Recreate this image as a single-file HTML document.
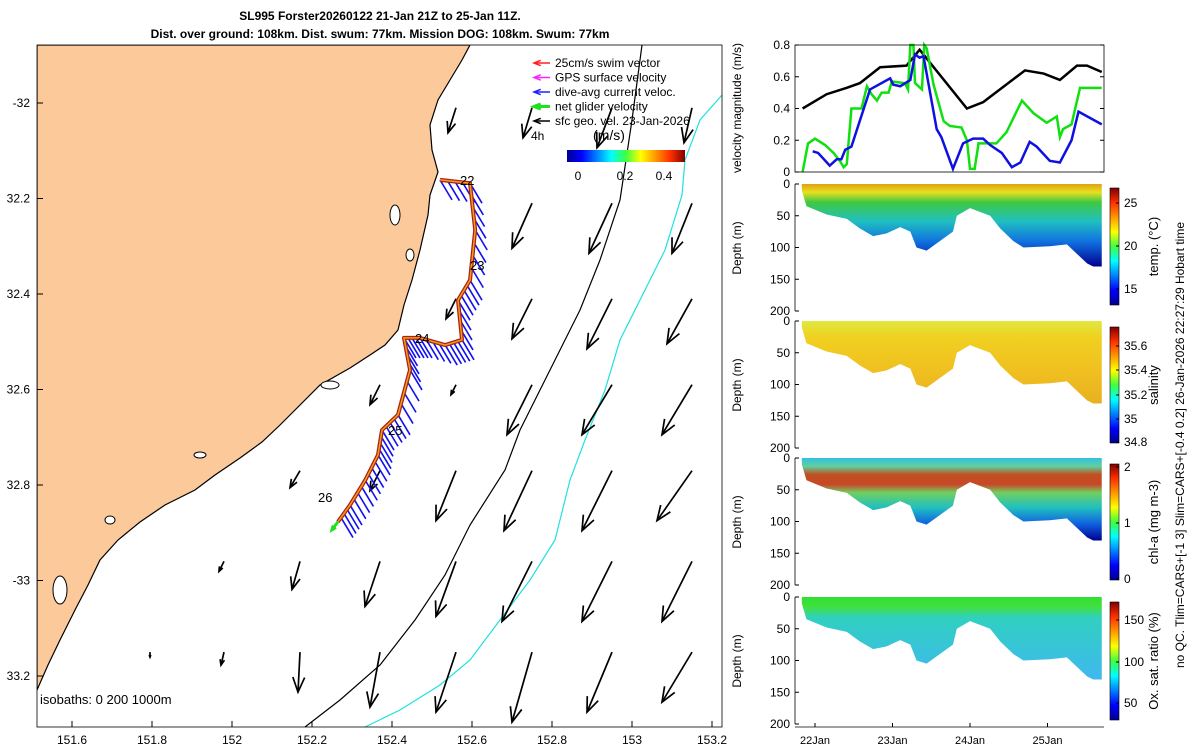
<!DOCTYPE html>
<html><head><meta charset="utf-8"><style>
body{margin:0;background:#fff;}
svg{display:block;font-family:"Liberation Sans","DejaVu Sans",sans-serif;}
</style></head><body>
<svg id="chart" width="1200" height="750" viewBox="0 0 1200 750">
<defs>
<linearGradient id="jet" x1="0" y1="1" x2="0" y2="0">
<stop offset="0" stop-color="#00008f"/><stop offset="0.125" stop-color="#0000ff"/><stop offset="0.375" stop-color="#00ffff"/><stop offset="0.5" stop-color="#40ff40"/><stop offset="0.625" stop-color="#ffff00"/><stop offset="0.875" stop-color="#ff3000"/><stop offset="1" stop-color="#800000"/></linearGradient>
<linearGradient id="jetH" x1="0" y1="0" x2="1" y2="0">
<stop offset="0" stop-color="#00008f"/><stop offset="0.125" stop-color="#0000ff"/><stop offset="0.375" stop-color="#00ffff"/><stop offset="0.5" stop-color="#40ff40"/><stop offset="0.625" stop-color="#ffff00"/><stop offset="0.875" stop-color="#ff3000"/><stop offset="1" stop-color="#800000"/></linearGradient>
<linearGradient id="gT" x1="0" y1="0" x2="0" y2="1"><stop offset="0" stop-color="#e0a010"/><stop offset="0.1" stop-color="#e8e020"/><stop offset="0.22" stop-color="#40c840"/><stop offset="0.45" stop-color="#20c0c0"/><stop offset="0.7" stop-color="#1070e0"/><stop offset="1" stop-color="#000090"/></linearGradient>
<linearGradient id="gS" x1="0" y1="0" x2="0" y2="1"><stop offset="0" stop-color="#e0e840"/><stop offset="0.2" stop-color="#f0d020"/><stop offset="0.6" stop-color="#f0c020"/><stop offset="1" stop-color="#e8b020"/></linearGradient>
<linearGradient id="gC" x1="0" y1="0" x2="0" y2="1"><stop offset="0" stop-color="#30c0e0"/><stop offset="0.1" stop-color="#60d0a0"/><stop offset="0.2" stop-color="#c05020"/><stop offset="0.32" stop-color="#c84828"/><stop offset="0.42" stop-color="#70d060"/><stop offset="0.6" stop-color="#20c0c0"/><stop offset="0.8" stop-color="#1060e0"/><stop offset="1" stop-color="#000090"/></linearGradient>
<linearGradient id="gO" x1="0" y1="0" x2="0" y2="1"><stop offset="0" stop-color="#30e030"/><stop offset="0.12" stop-color="#40e040"/><stop offset="0.25" stop-color="#30d0c0"/><stop offset="1" stop-color="#40b8f0"/></linearGradient>
<clipPath id="mapclip"><rect x="37" y="45" width="685" height="682"/></clipPath>
</defs>
<g id="map"></g>
<g id="right"></g>
</svg>
<script>
// ---------- data ----------
const gridLon=[151.795,151.98,152.17,152.37,152.56,152.75,152.95,153.15];
const gridLat=[-32.01,-32.21,-32.41,-32.59,-32.77,-32.96,-33.15];
const curU=[
[null,null,null,null,-0.08,-0.09,-0.15,-0.08],
[null,null,null,null,null,-0.20,-0.23,-0.20],
[null,null,null,null,-0.10,-0.20,-0.25,-0.25],
[null,null,null,-0.10,-0.05,-0.25,-0.30,-0.30],
[null,null,-0.10,-0.10,-0.20,-0.28,-0.30,-0.35],
[null,-0.05,-0.08,-0.15,-0.20,-0.30,-0.30,-0.30],
[0,-0.03,-0.02,-0.10,-0.20,-0.20,-0.25,-0.30]];
const curV=[
[null,null,null,null,-0.25,-0.30,-0.40,-0.35],
[null,null,null,null,null,-0.45,-0.50,-0.50],
[null,null,null,null,-0.20,-0.40,-0.50,-0.45],
[null,null,null,-0.20,-0.10,-0.50,-0.50,-0.50],
[null,null,-0.17,-0.20,-0.50,-0.60,-0.60,-0.50],
[null,-0.10,-0.28,-0.45,-0.55,-0.60,-0.60,-0.60],
[-0.05,-0.13,-0.40,-0.55,-0.60,-0.70,-0.60,-0.50]];
const trackLon=[152.52,152.595,152.608,152.595,152.565,152.575,152.533,152.47,152.43,152.445,152.415,152.375,152.365,152.333,152.295,152.265];
const trackLat=[-32.161,-32.168,-32.266,-32.371,-32.413,-32.496,-32.507,-32.492,-32.492,-32.559,-32.653,-32.685,-32.737,-32.790,-32.842,-32.877];
const lonTicks=[151.6,151.8,152,152.2,152.4,152.6,152.8,153,153.2];
const lonLabels=["151.6","151.8","152","152.2","152.4","152.6","152.8","153","153.2"];
const latTicks=[-32,-32.2,-32.4,-32.6,-32.8,-33,-33.2];
const latLabels=["-32","32.2","32.4","32.6","32.8","-33","33.2"];

const blkT=[21.84,22.15,22.41,22.58,22.84,23.18,23.35,23.96,24.17,24.71,24.95,25.16,25.38,25.51,25.70];
const blkV=[0.40,0.49,0.53,0.56,0.66,0.67,0.77,0.40,0.44,0.64,0.62,0.58,0.67,0.67,0.63];
const grnT=[21.84,21.91,22.00,22.13,22.24,22.32,22.37,22.41,22.47,22.60,22.67,22.73,22.80,22.86,22.95,22.99,23.16,23.20,23.23,23.27,23.29,23.38,23.41,23.44,23.53,23.66,23.74,23.89,23.96,24.00,24.06,24.11,24.22,24.34,24.47,24.67,24.82,24.99,25.12,25.16,25.20,25.31,25.42,25.70];
const grnV=[0,0.18,0.21,0.17,0.12,0.07,0.03,0.05,0.40,0.40,0.54,0.49,0.45,0.50,0.50,0.57,0.56,0.52,0.80,0.80,0.56,0.52,0.80,0.78,0.55,0.32,0.29,0.28,0.20,0.02,0.02,0.18,0.18,0.18,0.25,0.45,0.37,0.31,0.35,0.22,0.27,0.30,0.53,0.53];
const bluT=[21.97,22.04,22.19,22.28,22.34,22.39,22.47,22.71,22.97,23.01,23.10,23.23,23.29,23.35,23.40,23.57,23.63,23.78,23.91,24.04,24.17,24.26,24.41,24.54,24.65,24.77,24.86,25.03,25.16,25.31,25.40,25.70];
const bluV=[0.13,0.12,0.04,0.08,0.08,0.14,0.16,0.52,0.59,0.55,0.54,0.58,0.74,0.72,0.73,0.27,0.22,0.02,0.18,0.21,0.21,0.17,0.12,0.03,0.06,0.19,0.16,0.07,0.06,0.20,0.38,0.30];
const botT=[21.83,21.89,22.15,22.41,22.58,22.75,22.92,23.10,23.23,23.31,23.44,23.61,23.78,23.83,24.00,24.26,24.39,24.56,24.69,25.03,25.25,25.38,25.51,25.59,25.70];
const botD=[10,35,48,55,70,82,78,68,75,100,105,90,75,50,38,50,70,90,100,98,95,110,125,130,130];
const dayTicks=[22,23,24,25];
const dayLabels=["22Jan","23Jan","24Jan","25Jan"];
const velTicks=[0,0.2,0.4,0.6,0.8];
const depthTicks=[0,50,100,150,200];

// ---------- helpers ----------
const NS="http://www.w3.org/2000/svg";
function mk(tag,attrs,parent,txt){const e=document.createElementNS(NS,tag);for(const k in attrs)e.setAttribute(k,attrs[k]);if(txt!==undefined)e.textContent=txt;parent.appendChild(e);return e;}
const lonX=l=>72+(l-151.6)*400;
const latY=l=>103+(-32-l)*477.5;
const map=document.getElementById('map');
const right=document.getElementById('right');

// ---------- map ----------
const water=mk('rect',{x:37,y:45,width:685,height:682,fill:'#fff'},map);


const clip=mk('g',{'clip-path':'url(#mapclip)'},map);
const land=mk('path',{d:'M37,45 L470,45 L462,60 L450,80 L438,100 L430,125 L432,150 L438,172 L430,195 L428,215 L420,250 L412,280 L404,305 L398,330 L385,345 L370,355 L350,368 L320,385 L300,405 L280,425 L262,442 L240,458 L215,475 L195,490 L165,505 L140,522 L118,540 L100,560 L88,585 L75,610 L60,640 L48,665 L37,690 Z',fill:'#fcc99a',stroke:'#000','stroke-width':1.2},clip);


[[395,215,5,10],[410,255,4,6],[330,385,9,4],[200,455,6,3],[60,590,7,14],[110,520,5,4]].forEach(l=>{
 const e=mk('ellipse',{cx:l[0],cy:l[1],rx:l[2],ry:l[3],fill:'#fff',stroke:'#000','stroke-width':1},clip);
 
 
});
const iso200=mk('polyline',{points:'642,45 632,120 620,200 600,260 580,310 545,380 520,430 505,470 470,525 445,575 415,620 380,665 340,700 305,727',fill:'none',stroke:'#000','stroke-width':1.2},clip);


const iso1000=mk('polyline',{points:'722,95 700,120 685,160 682,195 665,250 640,300 620,340 605,390 585,440 570,480 555,540 530,580 500,620 470,660 440,685 400,710 365,727',fill:'none',stroke:'#20e0e0','stroke-width':1.2},clip);



function arrow(parent,x,y,dx,dy,col,w,name){
 const g=mk('g',{},parent);
 
 
 mk('line',{x1:x,y1:y,x2:x+dx,y2:y+dy,stroke:col,'stroke-width':w},g);
 const L=Math.hypot(dx,dy)||1,ux=dx/L,uy=dy/L,h=Math.min(16,L*0.45);
 const ax=x+dx,ay=y+dy;
 mk('polyline',{points:`${ax-h*(ux*0.93-uy*0.37)},${ay-h*(uy*0.93+ux*0.37)} ${ax},${ay} ${ax-h*(ux*0.93+uy*0.37)},${ay-h*(uy*0.93-ux*0.37)}`,fill:'none',stroke:col,'stroke-width':w},g);
}
const SC=100;
for(let r=0;r<gridLat.length;r++)for(let c=0;c<gridLon.length;c++){
 if(curU[r][c]===null)continue;
 arrow(clip,lonX(gridLon[c]),latY(gridLat[r]),curU[r][c]*SC,-curV[r][c]*SC,'#000',1.7,'current-arrow');
}
const tp=trackLon.map((l,i)=>[lonX(l),latY(trackLat[i])]);
for(let i=0;i<tp.length-1;i+=1){
 const a=tp[i],b=tp[i+1];
 for(let k=0;k<4;k++){
  const f=k/4,x=a[0]+(b[0]-a[0])*f,y=a[1]+(b[1]-a[1])*f;
  const e=mk('line',{x1:x,y1:y,x2:x+12,y2:y+20,stroke:'#1010f0','stroke-width':1.6},clip);
  
  
 }
}
const tr=mk('polyline',{points:tp.map(p=>p.join(',')).join(' '),fill:'none',stroke:'#b02010','stroke-width':4,'stroke-linejoin':'round'},clip);


const tr2=mk('polyline',{points:tp.map(p=>p.join(',')).join(' '),fill:'none',stroke:'#e8a020','stroke-width':1.5},clip);


arrow(clip,tp[tp.length-1][0],tp[tp.length-1][1],-6,8,'#20e020',3,'net-glider-velocity-arrow');
[['22',460,185],['23',470,270],['24',415,343],['25',388,435],['26',318,502]].forEach(d=>{
 const t=mk('text',{x:d[1],y:d[2],'font-size':13},clip,d[0]);
 
 
});
const iso=mk('text',{x:40,y:704,'font-size':13},clip,'isobaths: 0   200   1000m');


const leg=mk('g',{},map);


[['#ff2020','25cm/s swim vector'],['#ff20ff','GPS surface velocity'],['#2020ff','dive-avg current veloc.'],['#20e020','net glider velocity'],['#000','sfc geo. vel. 23-Jan-2026']].forEach((d,i)=>{
 const y=63+i*14.5;
 arrow(leg,550,y,-16,0,d[0],i==3?3:1.5,'legend-arrow');
 const t=mk('text',{x:555,y:y+4,'font-size':12},leg,d[1]);
 
 
});
mk('text',{x:531,y:140,'font-size':12},leg,'4h');
mk('text',{x:609,y:140,'font-size':14,'text-anchor':'middle'},leg,'(m/s)');
const cb=mk('rect',{x:567,y:150,width:118,height:12,fill:'url(#jetH)'},leg);


[['0',578],['0.2',625],['0.4',664]].forEach(d=>mk('text',{x:d[1],y:180,'font-size':12,'text-anchor':'middle'},leg,d[0]));
const mb=mk('rect',{x:37,y:45,width:685,height:682,fill:'none',stroke:'#000','stroke-width':0.8},map);


lonTicks.forEach((v,i)=>{const x=lonX(v);mk('line',{x1:x,y1:727,x2:x,y2:721,stroke:'#000'},map);
 const t=mk('text',{x:x,y:744,'font-size':12,'text-anchor':'middle'},map,lonLabels[i]);
 
 });
latTicks.forEach((v,i)=>{const y=latY(v);mk('line',{x1:37,y1:y,x2:43,y2:y,stroke:'#000'},map);
 const t=mk('text',{x:30,y:y+4,'font-size':12,'text-anchor':'end'},map,latLabels[i]);
 
 });
const t1=mk('text',{x:380,y:20,'font-size':12,'font-weight':'bold','text-anchor':'middle'},map,'SL995 Forster20260122 21-Jan 21Z to 25-Jan 11Z.');


const t2=mk('text',{x:380,y:38,'font-size':12,'font-weight':'bold','text-anchor':'middle'},map,'Dist. over ground: 108km. Dist. swum: 77km. Mission DOG: 108km. Swum: 77km');



// ---------- right panels ----------
const X0=795,X1=1104;
const dayX=d=>815+(d-22)*77.5;
function panelFrame(y0,y1,name){const r=mk('rect',{x:X0,y:y0,width:X1-X0,height:y1-y0,fill:'none',stroke:'#000','stroke-width':0.8},right);
 
 }
const vy=v=>172-v*(127/0.8);
[[blkT,blkV,'#000','black-velocity-line'],[grnT,grnV,'#10e010','net-glider-velocity-line'],[bluT,bluV,'#1010e0','dive-avg-velocity-line']].forEach(s=>{
 const p=mk('polyline',{points:s[0].map((t,i)=>dayX(t)+','+vy(s[1][i])).join(' '),fill:'none',stroke:s[2],'stroke-width':2.5},right);
 
 
});
panelFrame(45,172,'velocity-panel');
velTicks.forEach(v=>{const y=vy(v);mk('line',{x1:X0,y1:y,x2:X0+4,y2:y,stroke:'#000'},right);mk('line',{x1:X1,y1:y,x2:X1-4,y2:y,stroke:'#000'},right);
 const t=mk('text',{x:X0-5,y:y+4,'font-size':12,'text-anchor':'end'},right,String(v));
 
 });
const vl=mk('text',{transform:'translate(741,108) rotate(-90)','font-size':12,'text-anchor':'middle'},right,'velocity magnitude (m/s)');


const secs=[
 {y0:184,fill:'#gT',name:'temperature-section',cb:[188,305],lab:'temp. (°C)',ticks:[['25',203],['20',246],['15',289]]},
 {y0:321,fill:'#gS',name:'salinity-section',cb:[327,443],lab:'salinity',ticks:[['35.6',346],['35.4',370],['35.2',395],['35',419],['34.8',442]]},
 {y0:458,fill:'#gC',name:'chlorophyll-section',cb:[464,580],lab:'chl-a (mg m-3)',ticks:[['2',467],['1',523],['0',579]]},
 {y0:597,fill:'#gO',name:'oxygen-section',cb:[602,720],lab:'Ox. sat. ratio (%)',ticks:[['150',620],['100',662],['50',703]]}];
secs.forEach(s=>{
 const dy=d=>s.y0+d*(127/200);
 const pts=[dayX(botT[0])+','+dy(0)].concat(botT.map((t,i)=>dayX(t)+','+dy(botD[i])),[dayX(botT[botT.length-1])+','+dy(0)]);
 const g=mk('g',{},right);
 
 
 const grad=mk('linearGradient',{id:'g'+s.name,gradientUnits:'userSpaceOnUse',x1:0,y1:dy(0),x2:0,y2:dy(130)},g);
 const src=document.querySelector(s.fill);
 Array.from(src.children).forEach(c=>grad.appendChild(c.cloneNode()));
 const poly=mk('polygon',{points:pts.join(' '),fill:'url(#g'+s.name+')'},g);
 
 
 mk('line',{x1:X0,y1:s.y0,x2:X0,y2:s.y0+127,stroke:'#000','stroke-width':0.8},right);
 depthTicks.forEach(d=>{const y=dy(d);mk('line',{x1:X0,y1:y,x2:X0+4,y2:y,stroke:'#000'},right);
  const t=mk('text',{x:X0-5,y:y+4,'font-size':12,'text-anchor':'end'},right,String(d));
  
  });
 const dl=mk('text',{transform:`translate(741,${s.y0+64}) rotate(-90)`,'font-size':12,'text-anchor':'middle'},right,'Depth (m)');
 
 
 const c=mk('rect',{x:1110,y:s.cb[0],width:9,height:s.cb[1]-s.cb[0],fill:'url(#jet)',stroke:'#000','stroke-width':0.6},right);
 
 
 s.ticks.forEach(tk=>{mk('line',{x1:1116,y1:tk[1],x2:1119,y2:tk[1],stroke:'#000'},right);
  const t=mk('text',{x:1124,y:tk[1]+4,'font-size':12},right,tk[0]);
  
  });
 const cl=mk('text',{transform:`translate(1158,${(s.cb[0]+s.cb[1])/2}) rotate(-90)`,'font-size':13,'text-anchor':'middle'},right,s.lab);
 
 
});
dayTicks.forEach((d,i)=>{const x=dayX(d);mk('line',{x1:x,y1:727,x2:x,y2:723,stroke:'#000'},right);
 const t=mk('text',{x:x,y:744,'font-size':11,'text-anchor':'middle'},right,dayLabels[i]);
 
 });
mk('line',{x1:X0,y1:727,x2:X1,y2:727,stroke:'#000','stroke-width':0.8},right);
const note=mk('text',{transform:'translate(1184,445) rotate(-90)','font-size':12,'text-anchor':'middle'},right,'no QC. Tlim=CARS+[-1 3] Slim=CARS+[-0.4 0.2] 26-Jan-2026 22:27:29 Hobart time');


</script>
</body></html>
